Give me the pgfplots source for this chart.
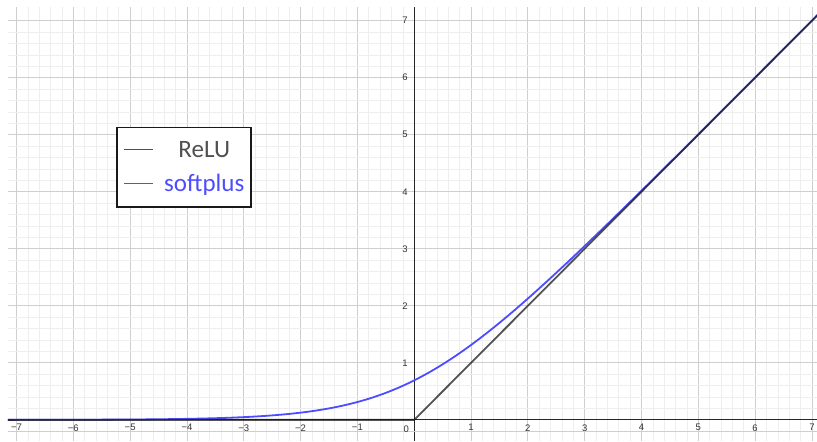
\documentclass[border=0pt]{standalone}
\usepackage{pgfplots}
\pgfplotsset{compat=1.18}
\usepackage{fontspec}
\setmainfont{Liberation Sans}
\newfontfamily\legfont{Carlito}
\usetikzlibrary{calc}
\definecolor{relu}{HTML}{1A1A1A}
\definecolor{relutxt}{HTML}{505050}
\definecolor{soft}{HTML}{4D4DFF}
\definecolor{majg}{HTML}{CFCFCF}
\definecolor{ming}{HTML}{EEEEEE}
\definecolor{tickc}{HTML}{333333}
\begin{document}
\begin{tikzpicture}
\begin{axis}[
  scale only axis, width=809pt, height=434pt,
  xmin=-7.15, xmax=7.09, ymin=-0.37, ymax=7.24,
  axis lines=middle,
  axis line style={line width=0.9pt, draw=black!85, -},
  xtick={-7,-6,-5,-4,-3,-2,-1,0,1,2,3,4,5,6,7},
  xticklabels={−7,−6,−5,−4,−3,−2,−1,,1,2,3,4,5,6,7},
  ytick={0,1,2,3,4,5,6,7},
  yticklabels={,1,2,3,4,5,6,7},
  extra y ticks={-0.2}, extra y tick labels={},
  minor x tick num=4, minor y tick num=4,
  grid=both,
  major grid style={draw=majg, line width=0.8pt},
  minor grid style={draw=ming, line width=0.6pt},
  extra y tick style={grid style={draw=ming, line width=0.6pt}},
  major tick length=0pt, minor tick length=0pt,
  ticklabel style={font=\fontsize{9.5}{11}\selectfont, text=tickc},
  xticklabel style={anchor=north, yshift=-1pt},
  yticklabel style={anchor=east, xshift=-3pt},
  legend style={at={(axis cs:-5.25,5.14)}, anchor=north west, draw=black!90, line width=1.6pt,
    font=\legfont\fontsize{25}{28}\selectfont, inner xsep=7.5pt, inner ysep=13pt,
    row sep=13pt, column sep=0pt,
    nodes={inner xsep=0pt, inner ysep=1pt}},
  legend cell align=left,
  legend image code/.code={},
  clip=true,
]
\addlegendimage{empty legend}
\addlegendimage{empty legend}
\addplot[soft, line width=1.8pt, smooth, forget plot] coordinates {
(-7.2,0.000747) (-7,0.000911) (-6,0.002473) (-5,0.006715) (-4.5,0.011048) (-4,0.018150)
(-3.5,0.029750) (-3.25,0.038041) (-3,0.048587) (-2.75,0.061970) (-2.5,0.078889) (-2.25,0.100257)
(-2,0.126928) (-1.75,0.160214) (-1.5,0.201413) (-1.25,0.251929) (-1,0.313262)
(-0.75,0.386871) (-0.5,0.474077) (-0.25,0.575939) (0,0.693147) (0.25,0.825939)
(0.5,0.974077) (0.75,1.136871) (1,1.313262) (1.25,1.501929) (1.5,1.701413)
(1.75,1.910214) (2,2.126928) (2.25,2.350257) (2.5,2.578889) (2.75,2.811970)
(3,3.048587) (3.25,3.288041) (3.5,3.529750) (4,4.018150) (4.5,4.511048)
(5,5.006715) (6,6.002473) (7,7.000911) (7.2,7.200746)
};
\addplot[relu, line width=1.8pt, opacity=0.75, forget plot] coordinates {
(-7.2,0) (0,0) (7.2,7.2)
};
\legend{\textcolor{relutxt}{\rule[7.2pt]{29pt}{1.6pt}}\hspace{12pt}\makebox[78pt][c]{\textcolor{relutxt}{ReLU}},
        \textcolor{soft}{\rule[7.2pt]{29pt}{1.6pt}}\hspace{12pt}\makebox[78pt][c]{\textcolor{soft}{softplus}}}
\node[anchor=north east, font=\fontsize{9.5}{11}\selectfont, text=tickc, inner sep=0pt] at (axis cs:-0.09,-0.1) {0};
\end{axis}
\pgfresetboundingbox
\path ($(current axis.south west)+(-8pt,0pt)$) rectangle ($(current axis.north east)+(0pt,7pt)$);
\end{tikzpicture}
\end{document}
